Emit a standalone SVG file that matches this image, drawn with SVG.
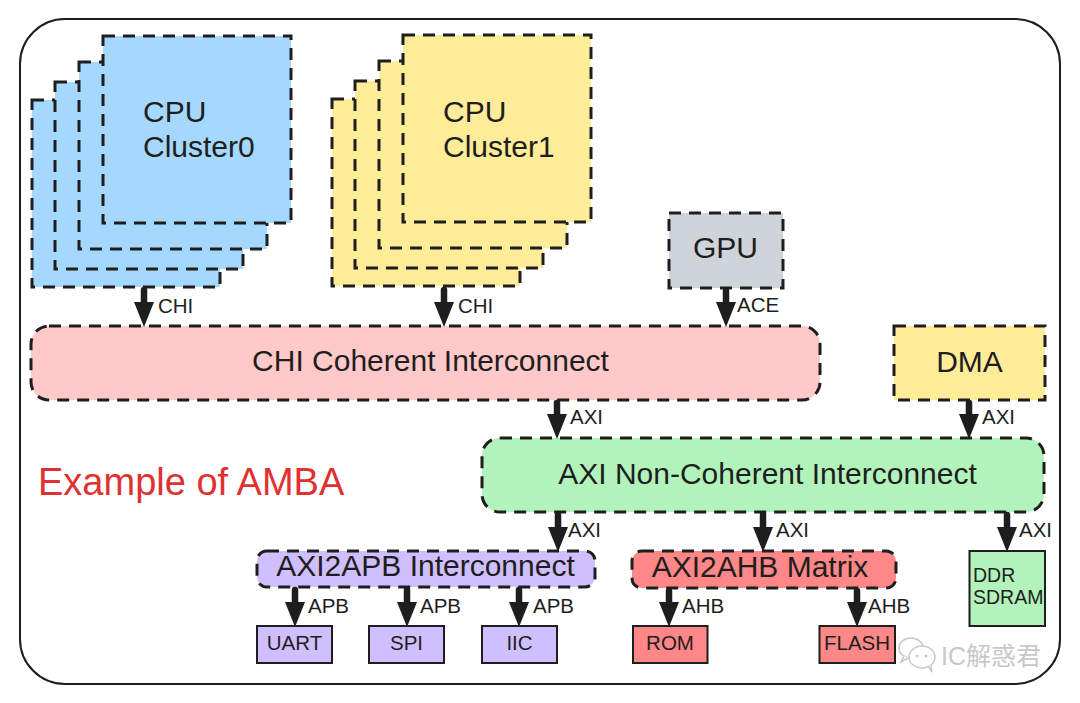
<svg xmlns="http://www.w3.org/2000/svg" width="1080" height="703" viewBox="0 0 1080 703">
<style>
.dash{stroke:#1e1e1e;stroke-width:3;stroke-dasharray:12 8}
.solid{stroke:#1e1e1e;stroke-width:2}
.blue{fill:#a5d8ff}.yellow{fill:#ffec99}.pink{fill:#ffc9c9}.grey{fill:#ced4da}.green{fill:#b2f2bb}.lav{fill:#d0bfff}.red{fill:#ff8787}
text{font-family:"Liberation Sans",Arial,sans-serif;fill:#1e1e1e}
.big{font-size:30px}
.mid{font-size:20.5px}
.lbl{font-size:19.5px}
.conn{stroke:#1e1e1e;stroke-width:6.5;stroke-linecap:round;fill:none;marker-end:url(#ah)}
</style>
<defs>
<marker id="ah" viewBox="0 -11 26 22" markerWidth="26" markerHeight="22" refX="14" refY="0" orient="auto" markerUnits="userSpaceOnUse">
<path d="M0,-10 L25,0 L0,10 Z" fill="#1e1e1e"/>
</marker>
</defs>
<rect x="0" y="0" width="1080" height="703" fill="#ffffff"/>
<rect id="frame" x="20" y="19" width="1040" height="665" rx="45" fill="none" stroke="#1e1e1e" stroke-width="2"/>

<g id="cpu0">
<rect class="dash blue" x="32" y="100" width="188" height="187"/>
<rect class="dash blue" x="55" y="82" width="188" height="187"/>
<rect class="dash blue" x="79" y="62" width="188" height="187"/>
<rect class="dash blue" x="103" y="36" width="188" height="187"/>
<text class="big" x="143" y="122">CPU</text>
<text class="big" x="143" y="157">Cluster0</text>
</g>
<g id="cpu1">
<rect class="dash yellow" x="332" y="99" width="188" height="187"/>
<rect class="dash yellow" x="355" y="81" width="188" height="187"/>
<rect class="dash yellow" x="379" y="61" width="188" height="187"/>
<rect class="dash yellow" x="403" y="35" width="188" height="187"/>
<text class="big" x="443" y="122">CPU</text>
<text class="big" x="443" y="157">Cluster1</text>
</g>
<g id="gpu">
<rect class="dash grey" x="669" y="213" width="114" height="75"/>
<text class="big" x="725.5" y="258" text-anchor="middle">GPU</text>
</g>
<g id="chi">
<rect class="dash pink" x="31" y="326" width="789" height="74" rx="18"/>
<text class="big" x="430.5" y="371" text-anchor="middle">CHI Coherent Interconnect</text>
</g>
<g id="dma">
<rect class="dash yellow" x="894" y="326" width="151" height="74"/>
<text class="big" x="969.5" y="372" text-anchor="middle">DMA</text>
</g>
<g id="axi">
<rect class="dash green" x="482" y="438" width="562" height="74" rx="18"/>
<text class="big" x="767.5" y="484" text-anchor="middle">AXI Non-Coherent Interconnect</text>
</g>
<g id="apb">
<rect class="dash lav" x="257" y="551" width="338" height="36" rx="10"/>
<text class="big" x="425.5" y="576" text-anchor="middle">AXI2APB Interconnect</text>
</g>
<g id="ahb">
<rect class="dash red" x="632" y="551" width="264" height="37" rx="10"/>
<text class="big" x="760" y="577" text-anchor="middle">AXI2AHB Matrix</text>
</g>
<g id="ddr">
<rect class="solid green" x="969.5" y="551" width="75.5" height="75"/>
<text class="lbl" x="973" y="582">DDR</text>
<text class="lbl" x="973" y="604">SDRAM</text>
</g>
<g id="uart">
<rect class="solid lav" x="257" y="626" width="75" height="37"/>
<text class="mid" x="294.5" y="650" text-anchor="middle">UART</text>
</g>
<g id="spi">
<rect class="solid lav" x="369" y="626" width="75" height="37"/>
<text class="mid" x="406.5" y="650" text-anchor="middle">SPI</text>
</g>
<g id="iic">
<rect class="solid lav" x="482" y="626" width="75" height="37"/>
<text class="mid" x="519.5" y="650" text-anchor="middle">IIC</text>
</g>
<g id="rom">
<rect class="solid red" x="633" y="626" width="74.5" height="37"/>
<text class="mid" x="670" y="650" text-anchor="middle">ROM</text>
</g>
<g id="flash">
<rect class="solid red" x="819.5" y="626" width="75.5" height="37"/>
<text class="mid" x="857" y="650" text-anchor="middle">FLASH</text>
</g>

<g id="connectors">
<path class="conn" d="M144,290 V316"/>
<path class="conn" d="M444,290 V316"/>
<path class="conn" d="M726,291 V316"/>
<path class="conn" d="M557,403 V428"/>
<path class="conn" d="M969,403 V428"/>
<path class="conn" d="M558,515 V541"/>
<path class="conn" d="M763,515 V541"/>
<path class="conn" d="M1007,515 V541"/>
<path class="conn" d="M295,590 V616"/>
<path class="conn" d="M407,590 V616"/>
<path class="conn" d="M519,590 V616"/>
<path class="conn" d="M669,591 V616"/>
<path class="conn" d="M857,591 V616"/>
<g class="mid">
<text x="158" y="313">CHI</text>
<text x="458" y="313">CHI</text>
<text x="737" y="312">ACE</text>
<text x="570" y="424">AXI</text>
<text x="982" y="424">AXI</text>
<text x="568" y="537">AXI</text>
<text x="776" y="537">AXI</text>
<text x="1019" y="537">AXI</text>
<text x="308" y="613">APB</text>
<text x="420" y="613">APB</text>
<text x="533" y="613">APB</text>
<text x="682" y="613">AHB</text>
<text x="868" y="613">AHB</text>
</g>
</g>

<text x="38" y="495" style="font-size:38px;fill:#e03131">Example of AMBA</text>

<g id="watermark" fill="#ffffff" stroke="#c8c8c8" stroke-width="1.5">
<ellipse cx="911" cy="648" rx="12" ry="10"/>
<path d="M904,656 l-3,6 l7,-4" />
<ellipse cx="922" cy="657" rx="13" ry="11"/>
<path d="M928,666 l4,6 l-1,-7"/>
<circle cx="917" cy="656" r="1.5" fill="#c8c8c8" stroke="none"/>
<circle cx="926" cy="656" r="1.5" fill="#c8c8c8" stroke="none"/>
<text x="941" y="665" stroke="none" style="font-size:25px;fill:#c8c8c8;font-family:'Liberation Sans','Noto Sans CJK SC',sans-serif">IC解惑君</text>
</g>
</svg>
